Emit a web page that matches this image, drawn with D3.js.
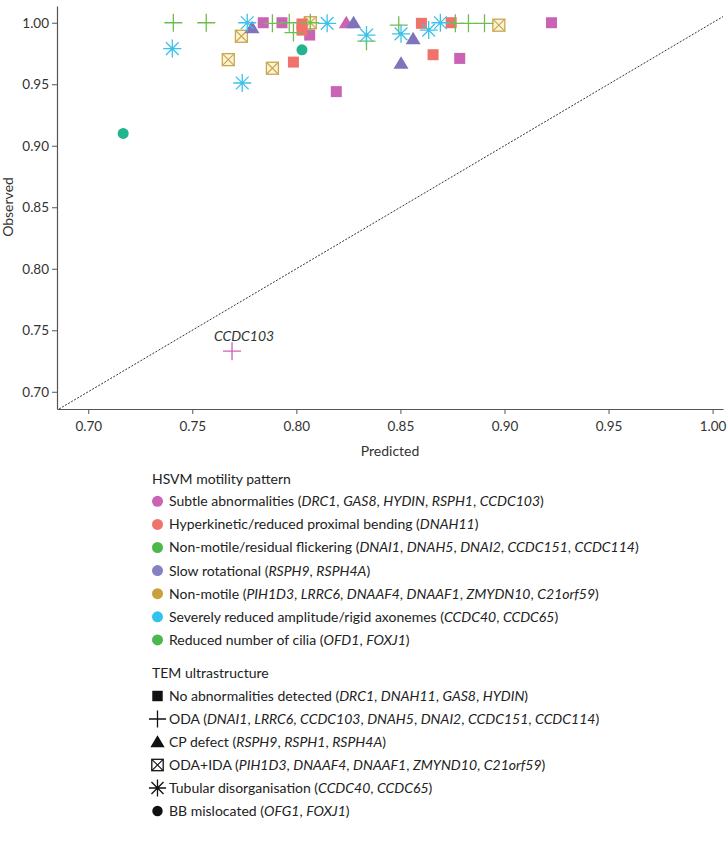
<!DOCTYPE html>
<html><head><meta charset="utf-8">
<script src="https://cdn.jsdelivr.net/npm/d3@7"></script>
<style>
body{margin:0;background:#fff;}
text{font-family:Lato,"Noto Sans",sans-serif;}
</style></head>
<body><svg id="chart" width="727" height="853"></svg>
<script>
// ---- data ----
const xTicks = [0.70, 0.75, 0.80, 0.85, 0.90, 0.95, 1.00];
const yTicks = [0.70, 0.75, 0.80, 0.85, 0.90, 0.95, 1.00];

const motilityNames = ["Subtle abnormalities", "Hyperkinetic/reduced proximal bending", "Non-motile/residual flickering", "Slow rotational", "Non-motile", "Severely reduced amplitude/rigid axonemes", "Reduced number of cilia"];
const motilityGenes = [["DRC1","GAS8","HYDIN","RSPH1","CCDC103"],["DNAH11"],["DNAI1","DNAH5","DNAI2","CCDC151","CCDC114"],["RSPH9","RSPH4A"],["PIH1D3","LRRC6","DNAAF4","DNAAF1","ZMYDN10","C21orf59"],["CCDC40","CCDC65"],["OFD1","FOXJ1"]];
const motilityColors = ["#cb63b4","#f0736b","#4cb84c","#8780c2","#c9a03c","#2fc3ee","#4cb84c"];
const markerColors = ["#cb63b4","#f0736b","#6cbf4f","#7f74bb","#c9a751","#3cc1ea","#22b48e"];

const temNames = ["No abnormalities detected","ODA","CP defect","ODA+IDA","Tubular disorganisation","BB mislocated"];
const temGenes = [["DRC1","DNAH11","GAS8","HYDIN"],["DNAI1","LRRC6","CCDC103","DNAH5","DNAI2","CCDC151","CCDC114"],["RSPH9","RSPH1","RSPH4A"],["PIH1D3","DNAAF4","DNAAF1","ZMYND10","C21orf59"],["CCDC40","CCDC65"],["OFG1","FOXJ1"]];
const temShapes = ["square","cross","triangle","box","asterisk","circle"];

// points: predicted, observed, motility index, TEM index
const predicted = [0.7841,0.7931,0.8064,0.8192,0.8785,0.9226,0.8240,0.7691,
  0.8027,0.8027,0.7986,0.8601,0.8657,0.8744,
  0.7736,0.7673,0.7885,0.8067,0.8973,
  0.7409,0.7567,0.7885,0.7966,0.7986,0.8067,0.8337,0.8492,0.8764,0.8827,0.8904,
  0.7787,0.8275,0.8561,0.8503,
  0.7404,0.7764,0.7740,0.8148,0.8337,0.8503,0.8636,0.8692,
  0.7168,0.8027];
const observed = [1.000,1.000,0.990,0.944,0.971,1.000,1.000,0.733,
  0.999,0.994,0.968,0.9995,0.974,1.000,
  0.989,0.970,0.963,1.000,0.998,
  1.000,1.000,0.9995,1.000,0.992,1.000,0.985,0.998,0.9995,0.9995,0.9995,
  0.996,1.000,0.987,0.967,
  0.979,1.000,0.951,0.9995,0.990,0.991,0.994,1.000,
  0.910,0.978];
const motility = [0,0,0,0,0,0,0,0, 1,1,1,1,1,1, 4,4,4,4,4, 2,2,2,2,2,2,2,2,2,2,2, 3,3,3,3, 5,5,5,5,5,5,5,5, 6,6];
const tem =      [0,0,0,0,0,0,2,1, 0,0,0,0,0,0, 3,3,3,3,3, 1,1,1,1,1,1,1,1,1,1,1, 2,2,2,2, 4,4,4,4,4,4,4,4, 5,5];
const labels = [{i:7, text:"CCDC103"}];

// ---- drawing ----
const svg = d3.select("#chart");
const x = d3.scaleLinear().domain([0.685, 1.005]).range([57, 723]);
const y = d3.scaleLinear().domain([0.686, 1.0136]).range([409, 6]);

// axes
const gx = svg.append("g").attr("transform","translate(0,409)")
  .call(d3.axisBottom(x).tickValues(xTicks).tickFormat(d3.format(".2f")).tickSize(5).tickSizeOuter(0));
const gy = svg.append("g").attr("transform","translate(57,0)")
  .call(d3.axisLeft(y).tickValues(yTicks).tickFormat(d3.format(".2f")).tickSize(5).tickSizeOuter(0));
[gx,gy].forEach(g=>{
  g.select(".domain").attr("stroke","#555").attr("stroke-width",1.2);
  g.selectAll(".tick line").attr("stroke","#555");
  g.selectAll(".tick text").attr("fill","#333").style("font-size","13.5px").style("font-family","Lato,sans-serif");
});
gx.selectAll(".tick text").attr("dy","1.05em");

svg.append("text").attr("x",390).attr("y",456).attr("text-anchor","middle")
  .style("font-size","14px").attr("fill","#333").text("Predicted");
svg.append("text").attr("transform","translate(13,207) rotate(-90)").attr("text-anchor","middle")
  .style("font-size","14px").attr("fill","#333").text("Observed");

// diagonal y = x
const d0 = 0.686, d1 = 1.005;
svg.append("line").attr("x1",x(d0)).attr("y1",y(d0)).attr("x2",x(d1)).attr("y2",y(d1))
  .attr("stroke","#333").attr("stroke-width",1).attr("stroke-dasharray","2,1.5");

// marker drawing
function drawShape(g, shape, color, s) {
  s = s || 1;
  if (shape === "square") {
    g.append("rect").attr("x",-5.5*s).attr("y",-5.5*s).attr("width",11*s).attr("height",11*s).attr("fill",color);
  } else if (shape === "cross") {
    g.append("path").attr("d",`M${-9*s},0H${9*s}M0,${-9*s}V${9*s}`).attr("stroke",color).attr("stroke-width",1.3).attr("fill","none");
  } else if (shape === "triangle") {
    g.append("path").attr("d",`M0,${-7*s}L${7.5*s},${5.5*s}L${-7.5*s},${5.5*s}Z`).attr("fill",color);
  } else if (shape === "box") {
    const h = 6*s;
    g.append("rect").attr("x",-h).attr("y",-h).attr("width",2*h).attr("height",2*h)
      .attr("fill", color==="#111"?"#fff":"#fbf3d2").attr("stroke",color).attr("stroke-width",1.3);
    g.append("path").attr("d",`M${-h},${-h}L${h},${h}M${h},${-h}L${-h},${h}`).attr("stroke",color).attr("stroke-width",1.1);
  } else if (shape === "asterisk") {
    const r = 9*s, q = r*Math.SQRT1_2;
    g.append("path").attr("d",`M${-r},0H${r}M0,${-r}V${r}M${-q},${-q}L${q},${q}M${q},${-q}L${-q},${q}`)
      .attr("stroke",color).attr("stroke-width",1.3).attr("fill","none");
  } else if (shape === "circle") {
    g.append("circle").attr("r",5.5*s).attr("fill",color);
  }
}

const order = [3,0,2,1,4,5]; // draw order by TEM type
const idx = d3.range(predicted.length).sort((a,b)=>order.indexOf(tem[a])-order.indexOf(tem[b]));
const pts = svg.append("g");
idx.forEach(i=>{
  const g = pts.append("g").attr("transform",`translate(${x(predicted[i])},${y(observed[i])})`);
  drawShape(g, temShapes[tem[i]], markerColors[motility[i]], 1);
});
labels.forEach(l=>{
  svg.append("text").attr("x",x(predicted[l.i])+12).attr("y",y(observed[l.i])-10)
    .attr("text-anchor","middle").style("font-size","14px").style("font-style","italic").attr("fill","#333").text(l.text);
});

// legend
function legendText(g, tx, ty, name, genes) {
  const t = g.append("text").attr("x",tx).attr("y",ty).attr("dy","0.35em").style("font-size","14px").attr("fill","#222");
  t.append("tspan").text(name + " (");
  genes.forEach((gn,k)=>{
    t.append("tspan").style("font-style","italic").text(gn);
    if (k < genes.length-1) t.append("tspan").text(", ");
  });
  t.append("tspan").text(")");
}
const leg = svg.append("g");
leg.append("text").attr("x",152).attr("y",479).attr("dy","0.35em").style("font-size","14px").attr("fill","#222").text("HSVM motility pattern");
motilityNames.forEach((n,k)=>{
  const cy = 501.3 + k*23.1;
  leg.append("circle").attr("cx",157.5).attr("cy",cy).attr("r",5.5).attr("fill",motilityColors[k]);
  legendText(leg, 169, cy, n, motilityGenes[k]);
});
leg.append("text").attr("x",152).attr("y",673).attr("dy","0.35em").style("font-size","14px").attr("fill","#222").text("TEM ultrastructure");
temNames.forEach((n,k)=>{
  const cy = 696 + k*23;
  const g = leg.append("g").attr("transform",`translate(157.5,${cy})`);
  drawShape(g, temShapes[k], "#111", 0.95);
  legendText(leg, 169, cy, n, temGenes[k]);
});
</script></body></html>
